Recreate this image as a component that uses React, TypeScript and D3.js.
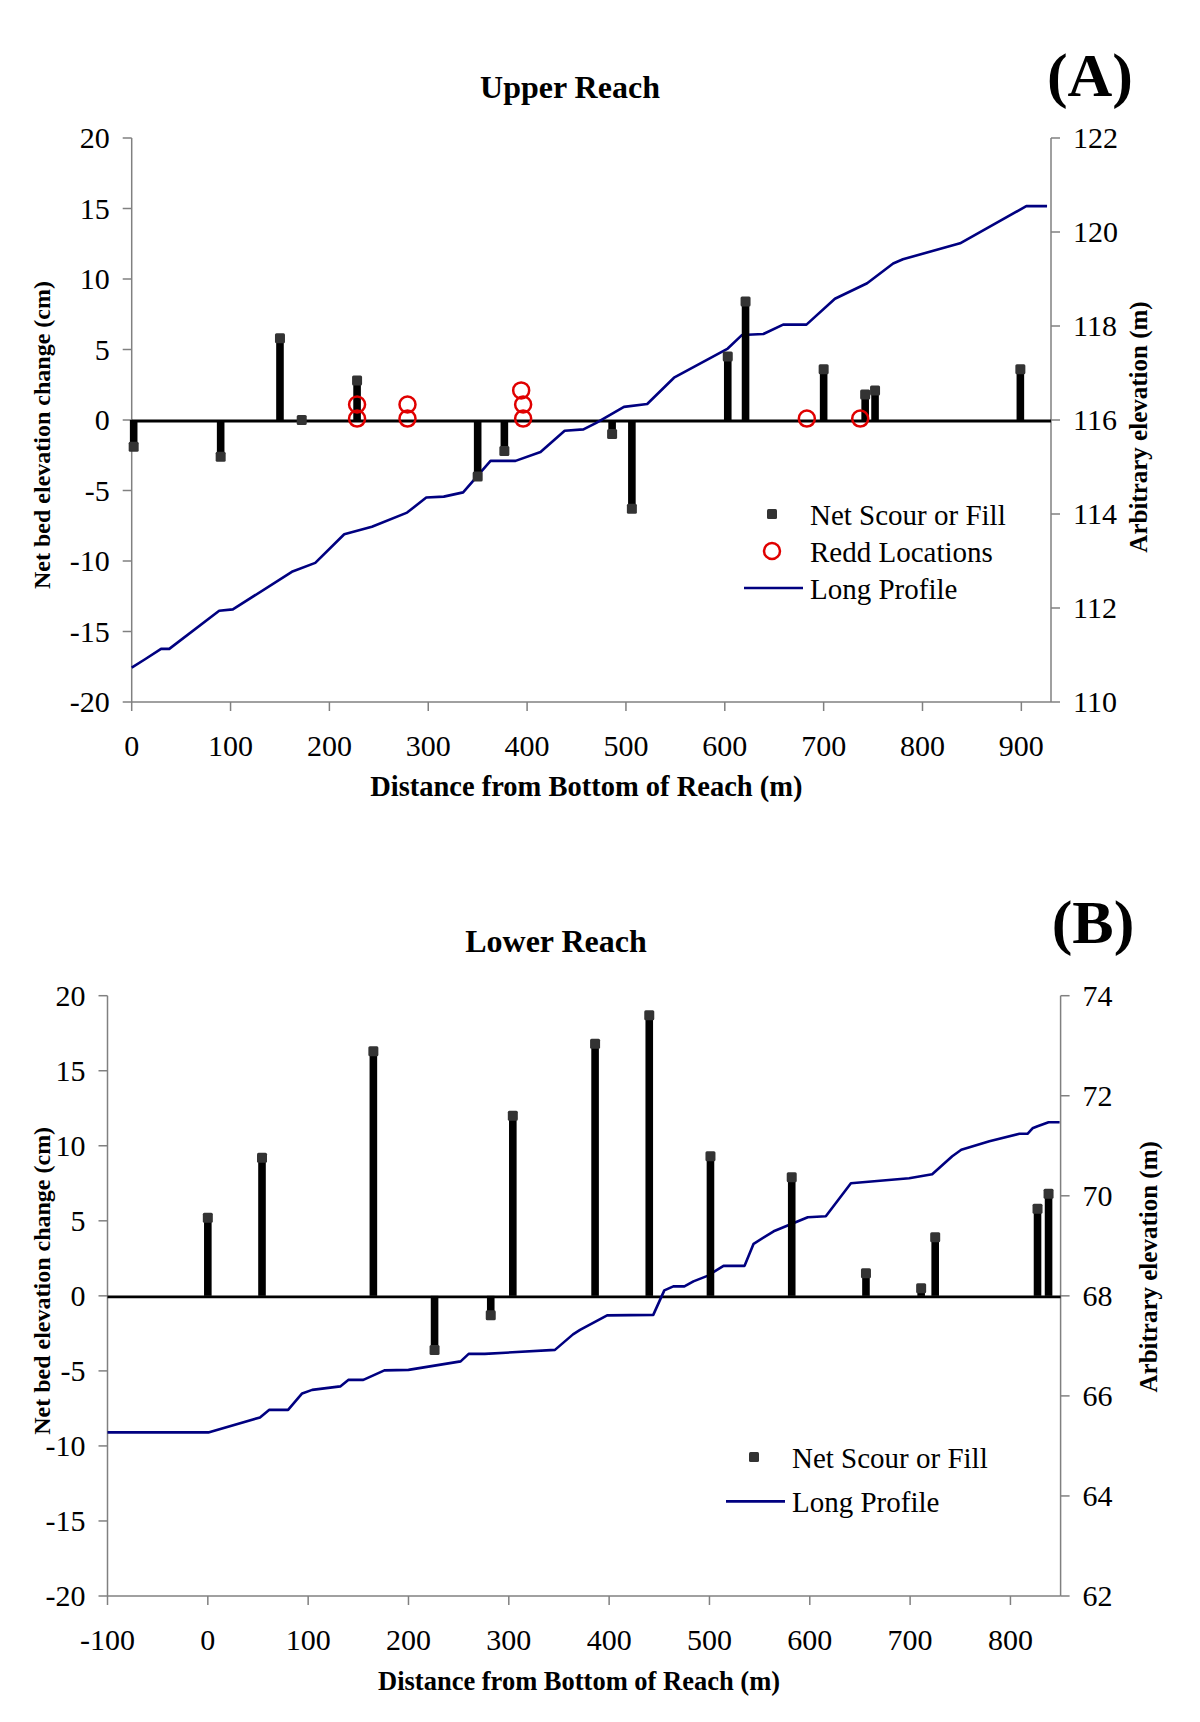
import React from "react";
import * as d3 from "d3";

// ---- Upper reach ----
const UPPER_SCOUR_X = [2, 90, 150, 172, 228, 350, 377, 486, 506, 603, 621, 700, 742, 752, 899];
const UPPER_SCOUR_Y = [-1.9, -2.6, 5.8, 0, 2.8, -4.0, -2.2, -1.0, -6.3, 4.5, 8.4, 3.6, 1.8, 2.1, 3.6];
const UPPER_REDD_X = [228, 228, 279, 279, 396, 396, 394, 683, 737];
const UPPER_REDD_Y = [0.1, 1.1, 0.1, 1.1, 0.1, 1.1, 2.1, 0.1, 0.1];
const UPPER_PROFILE_X = [0, 13.5, 29.7, 38, 88.5, 102.3, 162, 185.7, 215, 243, 278.6, 298, 315.7, 335.3, 363, 388.3, 413.6, 438, 457, 470, 498, 521.5, 548.6, 603, 617.5, 639, 659, 682.6, 711.4, 744, 770.3, 780.2, 838, 905, 926];
const UPPER_PROFILE_Y = [110.73, 110.91, 111.13, 111.13, 111.94, 111.97, 112.77, 112.96, 113.57, 113.73, 114.03, 114.35, 114.37, 114.46, 115.13, 115.13, 115.32, 115.77, 115.8, 115.94, 116.28, 116.34, 116.9, 117.52, 117.81, 117.83, 118.03, 118.03, 118.58, 118.91, 119.33, 119.42, 119.76, 120.55, 120.55];

// ---- Lower reach ----
const LOWER_SCOUR_X = [0, 54, 165, 226, 282, 304, 386, 440, 501, 582, 656, 711, 725, 827, 838];
const LOWER_SCOUR_Y = [5.2, 9.2, 16.3, -3.6, -1.3, 12.0, 16.8, 18.7, 9.3, 7.9, 1.5, 0.5, 3.9, 5.8, 6.8];
const LOWER_PROFILE_X = [-100, 0.5, 52, 61, 80, 94, 104, 132, 140, 155, 176, 200, 252, 260, 276, 346, 364, 371, 398, 444, 455, 464, 475, 484, 498, 514, 535, 544, 564, 598, 616, 641, 699, 722, 742, 751, 779, 809, 817, 822, 827, 838, 849];
const LOWER_PROFILE_Y = [65.27, 65.27, 65.57, 65.72, 65.72, 66.05, 66.12, 66.19, 66.32, 66.32, 66.51, 66.52, 66.69, 66.84, 66.84, 66.92, 67.23, 67.32, 67.61, 67.62, 68.11, 68.19, 68.19, 68.29, 68.4, 68.6, 68.6, 69.04, 69.29, 69.57, 69.59, 70.25, 70.35, 70.43, 70.79, 70.92, 71.09, 71.24, 71.24, 71.35, 71.39, 71.47, 71.47];

const LEFT_TICKS = [-20, -15, -10, -5, 0, 5, 10, 15, 20];
const UPPER_X_TICKS = [0, 100, 200, 300, 400, 500, 600, 700, 800, 900];
const LOWER_X_TICKS = [-100, 0, 100, 200, 300, 400, 500, 600, 700, 800];
const UPPER_RIGHT_TICKS = [110, 112, 114, 116, 118, 120, 122];
const LOWER_RIGHT_TICKS = [62, 64, 66, 68, 70, 72, 74];

const FONT = "'Liberation Serif', 'Times New Roman', serif";
const AXIS_GRAY = "#808080";
const NAVY = "#000080";
const RED = "#e00000";

interface PanelProps {
  title: string;
  letter: string;
  left: number;
  right: number;
  top: number;
  bottom: number;
  xDomain: [number, number];
  rDomain: [number, number];
  xTicks: number[];
  rTicks: number[];
  scourX: number[];
  scourY: number[];
  reddX?: number[];
  reddY?: number[];
  profX: number[];
  profY: number[];
  titleX: number;
  titleY: number;
  letterX: number;
  letterY: number;
  legendX: number;
  legendY: number;
  yTitleL: number;
  yTitleR: number;
  xTitleSize: number;
}

const Panel: React.FC<PanelProps> = (p) => {
  const x = d3.scaleLinear().domain(p.xDomain).range([p.left, p.right]);
  const y = d3.scaleLinear().domain([-20, 20]).range([p.bottom, p.top]);
  const yr = d3.scaleLinear().domain(p.rDomain).range([p.bottom, p.top]);
  const line = d3.line<number>()
    .x((_, i) => x(p.profX[i]))
    .y((d) => yr(d));
  const midY = (p.top + p.bottom) / 2;
  const hasRedd = !!p.reddX;
  const rowGap = 37;

  return (
    <g fontFamily={FONT}>
      {/* titles */}
      <text x={p.titleX} y={p.titleY} fontSize={32} fontWeight="bold" textAnchor="middle">{p.title}</text>
      <text x={p.letterX} y={p.letterY} fontSize={62} fontWeight="bold" textAnchor="middle">{p.letter}</text>

      {/* axes */}
      <line x1={p.left} x2={p.left} y1={p.top} y2={p.bottom} stroke={AXIS_GRAY} strokeWidth={1.5} />
      <line x1={p.right} x2={p.right} y1={p.top} y2={p.bottom} stroke={AXIS_GRAY} strokeWidth={1.5} />
      <line x1={p.left} x2={p.right} y1={p.bottom} y2={p.bottom} stroke={AXIS_GRAY} strokeWidth={1.5} />
      {LEFT_TICKS.map((t) => (
        <g key={"l" + t}>
          <line x1={p.left - 9} x2={p.left} y1={y(t)} y2={y(t)} stroke={AXIS_GRAY} strokeWidth={1.5} />
          <text x={p.left - 22} y={y(t) + 10} fontSize={30} textAnchor="end">{t}</text>
        </g>
      ))}
      {p.rTicks.map((t) => (
        <g key={"r" + t}>
          <line x1={p.right} x2={p.right + 9} y1={yr(t)} y2={yr(t)} stroke={AXIS_GRAY} strokeWidth={1.5} />
          <text x={p.right + 22} y={yr(t) + 10} fontSize={30} textAnchor="start">{t}</text>
        </g>
      ))}
      {p.xTicks.map((t) => (
        <g key={"x" + t}>
          <line x1={x(t)} x2={x(t)} y1={p.bottom} y2={p.bottom + 9} stroke={AXIS_GRAY} strokeWidth={1.5} />
          <text x={x(t)} y={p.bottom + 54} fontSize={30} textAnchor="middle">{t}</text>
        </g>
      ))}
      <text x={(p.left + p.right) / 2 - 5} y={p.bottom + 94} fontSize={p.xTitleSize} fontWeight="bold" textAnchor="middle">
        Distance from Bottom of Reach (m)
      </text>
      <text transform={`translate(50,${midY + p.yTitleL}) rotate(-90)`} fontSize={24} fontWeight="bold" textAnchor="middle">
        Net bed elevation change (cm)
      </text>
      <text transform={`translate(${p.right + 96},${midY + p.yTitleR}) rotate(-90)`} fontSize={25} fontWeight="bold" textAnchor="middle">
        Arbitrary elevation (m)
      </text>

      {/* zero line */}
      <line x1={p.left} x2={p.right} y1={y(0) + 1} y2={y(0) + 1} stroke="#000" strokeWidth={2.8} />

      {/* long profile */}
      <path d={line(p.profY) || ""} fill="none" stroke={NAVY} strokeWidth={2.6} strokeLinejoin="round" />

      {/* scour / fill stems */}
      {p.scourX.map((m, i) => {
        const v = p.scourY[i];
        const y0 = y(0);
        const y1 = y(v);
        return (
          <g key={"s" + i}>
            {v !== 0 && (
              <rect x={x(m) - 3.8} width={7.6} y={Math.min(y0, y1)} height={Math.abs(y1 - y0)} fill="#000" />
            )}
            <rect x={x(m) - 5} y={y1 - 5} width={10} height={10} rx={1.5} fill="#333" />
          </g>
        );
      })}

      {/* redds */}
      {hasRedd && p.reddX!.map((m, i) => (
        <circle key={"r" + i} cx={x(m)} cy={y(p.reddY![i])} r={8} fill="none" stroke={RED} strokeWidth={2.5} />
      ))}

      {/* legend */}
      <g fontSize={29}>
        <rect x={p.legendX - 5} y={p.legendY - 5} width={10} height={10} rx={1.5} fill="#333" />
        <text x={p.legendX + 38} y={p.legendY + 11}>Net Scour or Fill</text>
        {hasRedd && (
          <>
            <circle cx={p.legendX} cy={p.legendY + rowGap} r={8} fill="none" stroke={RED} strokeWidth={2.5} />
            <text x={p.legendX + 38} y={p.legendY + rowGap + 11}>Redd Locations</text>
          </>
        )}
        <line
          x1={p.legendX - 28}
          x2={p.legendX + 31}
          y1={p.legendY + rowGap * (hasRedd ? 2 : 1.2)}
          y2={p.legendY + rowGap * (hasRedd ? 2 : 1.2)}
          stroke={NAVY}
          strokeWidth={2.6}
        />
        <text x={p.legendX + 38} y={p.legendY + rowGap * (hasRedd ? 2 : 1.2) + 11}>Long Profile</text>
      </g>
    </g>
  );
};

export default function App() {
  return (
    <svg
      width={1200}
      height={1722}
      viewBox="0 0 1200 1722"
      style={{ position: "absolute", left: 0, top: 0, display: "block", background: "#fff" }}
    >
      <rect width={1200} height={1722} fill="#fff" />
      <Panel
        title="Upper Reach"
        letter="(A)"
        left={131.7}
        right={1051}
        top={138}
        bottom={702}
        xDomain={[0, 930]}
        rDomain={[110, 122]}
        xTicks={UPPER_X_TICKS}
        rTicks={UPPER_RIGHT_TICKS}
        scourX={UPPER_SCOUR_X}
        scourY={UPPER_SCOUR_Y}
        reddX={UPPER_REDD_X}
        reddY={UPPER_REDD_Y}
        profX={UPPER_PROFILE_X}
        profY={UPPER_PROFILE_Y}
        titleX={570}
        titleY={98}
        letterX={1090}
        letterY={96}
        legendX={772}
        legendY={514}
        yTitleL={15}
        yTitleR={7}
        xTitleSize={28.5}
      />
      <Panel
        title="Lower Reach"
        letter="(B)"
        left={107.5}
        right={1060.6}
        top={995.7}
        bottom={1596}
        xDomain={[-100, 850]}
        rDomain={[62, 74]}
        xTicks={LOWER_X_TICKS}
        rTicks={LOWER_RIGHT_TICKS}
        scourX={LOWER_SCOUR_X}
        scourY={LOWER_SCOUR_Y}
        profX={LOWER_PROFILE_X}
        profY={LOWER_PROFILE_Y}
        titleX={556}
        titleY={952}
        letterX={1093}
        letterY={943}
        legendX={754}
        legendY={1457}
        yTitleL={-15}
        yTitleR={-29}
        xTitleSize={26.5}
      />
    </svg>
  );
}
